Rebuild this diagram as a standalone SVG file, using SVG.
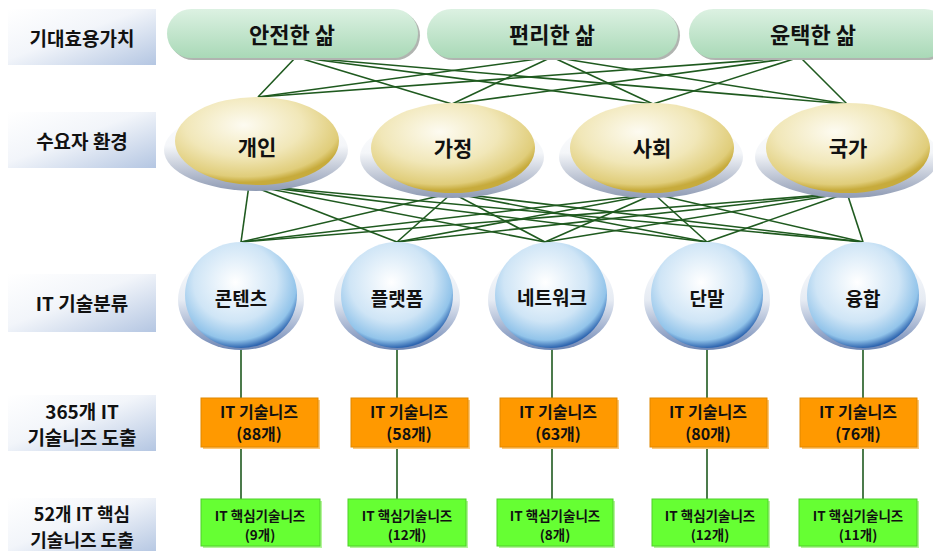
<svg xmlns="http://www.w3.org/2000/svg" width="933" height="551" viewBox="0 0 933 551">
<defs>
<linearGradient id="lbl" x1="0" y1="0" x2="1" y2="1">
<stop offset="0" stop-color="#ffffff"/><stop offset="0.45" stop-color="#f2f5fa"/><stop offset="1" stop-color="#b4c6e2"/>
</linearGradient>
<linearGradient id="pill" x1="0" y1="0" x2="0" y2="1">
<stop offset="0" stop-color="#dcf1e2"/><stop offset="1" stop-color="#a9d9b7"/>
</linearGradient>
<radialGradient id="yel" cx="0.42" cy="0.32" r="0.65">
<stop offset="0" stop-color="#fdfbf1"/><stop offset="0.55" stop-color="#f1e7b8"/><stop offset="0.9" stop-color="#e0cd7a"/><stop offset="1" stop-color="#c7ab3c"/>
</radialGradient>
<linearGradient id="yshadow" x1="0" y1="0" x2="0" y2="1">
<stop offset="0" stop-color="#ffffff"/><stop offset="0.45" stop-color="#f4f6f9"/><stop offset="1" stop-color="#8f9bb4"/>
</linearGradient>
<radialGradient id="blu" cx="0.45" cy="0.38" r="0.62">
<stop offset="0" stop-color="#ffffff"/><stop offset="0.6" stop-color="#cfe5f6"/><stop offset="0.88" stop-color="#92c4ea"/><stop offset="1" stop-color="#2f66b0"/>
</radialGradient>
<linearGradient id="bshadow" x1="0" y1="0" x2="0" y2="1">
<stop offset="0" stop-color="#ffffff"/><stop offset="0.5" stop-color="#e6ebf3"/><stop offset="1" stop-color="#6e86b4"/>
</linearGradient>
</defs>
<style>
.lb{fill:url(#lbl);}
.lt{font-family:"Noto Sans CJK KR","Liberation Sans",sans-serif;font-weight:bold;font-size:19px;fill:#111;text-anchor:middle;dominant-baseline:central;}
.pl{fill:url(#pill);}
.ps{fill:#b0b4b0;}
.pt{font-family:"Noto Sans CJK KR","Liberation Sans",sans-serif;font-weight:bold;font-size:22px;fill:#111;text-anchor:middle;dominant-baseline:central;}
.ye{fill:url(#yel);}
.ys{fill:url(#yshadow);}
.et{font-family:"Noto Sans CJK KR","Liberation Sans",sans-serif;font-weight:bold;font-size:21px;fill:#111;text-anchor:middle;dominant-baseline:central;}
.bc{fill:url(#blu);}
.bs{fill:url(#bshadow);}
.ct{font-family:"Noto Sans CJK KR","Liberation Sans",sans-serif;font-weight:bold;font-size:19px;fill:#111;text-anchor:middle;dominant-baseline:central;}
.ob{fill:#ff9900;stroke:#e08800;stroke-width:1;}
.os{fill:#ffc879;}
.ot{font-family:"Noto Sans CJK KR","Liberation Sans",sans-serif;font-weight:bold;font-size:16px;fill:#111;text-anchor:middle;dominant-baseline:central;}
.gb{fill:#66ff33;stroke:#4fd02a;stroke-width:1;}
.gs{fill:#b4f59a;}
.gt{font-family:"Noto Sans CJK KR","Liberation Sans",sans-serif;font-weight:bold;font-size:13.5px;fill:#111;text-anchor:middle;dominant-baseline:central;}
.cn line{stroke:#1f5a1f;stroke-width:1.6;}
</style>
<rect width="933" height="551" fill="#ffffff"/>

<g id="labels">
<g id="label-value"><rect class="lb" x="8" y="9" width="148" height="56"/><text class="lt" x="82" y="37">기대효용가치</text></g>
<g id="label-env"><rect class="lb" x="8" y="112" width="148" height="56"/><text class="lt" x="82" y="140">수요자 환경</text></g>
<g id="label-tech"><rect class="lb" x="8" y="274" width="148" height="58"/><text class="lt" x="82" y="302">IT 기술분류</text></g>
<g id="label-needs"><rect class="lb" x="8" y="395" width="148" height="56"/><text class="lt" x="82" y="410">365개 IT</text><text class="lt" x="82" y="436">기술니즈 도출</text></g>
<g id="label-core"><rect class="lb" x="8" y="498" width="148" height="56"/><text class="lt" x="82" y="513" style="font-size:18px">52개 IT 핵심</text><text class="lt" x="82" y="539" style="font-size:18px">기술니즈 도출</text></g>
</g>

<g id="connectors" class="cn">
<line x1="296" y1="57" x2="258" y2="97"/><line x1="296" y1="57" x2="452" y2="104"/><line x1="296" y1="57" x2="653" y2="104"/><line x1="296" y1="57" x2="847" y2="104"/>
<line x1="552" y1="57" x2="258" y2="97"/><line x1="552" y1="57" x2="452" y2="104"/><line x1="552" y1="57" x2="653" y2="104"/><line x1="552" y1="57" x2="847" y2="104"/>
<line x1="800" y1="57" x2="258" y2="97"/><line x1="800" y1="57" x2="452" y2="104"/><line x1="800" y1="57" x2="653" y2="104"/><line x1="800" y1="57" x2="847" y2="104"/>
<line x1="249" y1="185" x2="241" y2="242"/><line x1="249" y1="185" x2="397" y2="242"/><line x1="249" y1="185" x2="545" y2="242"/><line x1="249" y1="185" x2="707" y2="242"/><line x1="249" y1="185" x2="863" y2="242"/>
<line x1="452" y1="193" x2="241" y2="242"/><line x1="452" y1="193" x2="397" y2="242"/><line x1="452" y1="193" x2="545" y2="242"/><line x1="452" y1="193" x2="707" y2="242"/><line x1="452" y1="193" x2="863" y2="242"/>
<line x1="654" y1="194" x2="241" y2="242"/><line x1="654" y1="194" x2="397" y2="242"/><line x1="654" y1="194" x2="545" y2="242"/><line x1="654" y1="194" x2="707" y2="242"/><line x1="654" y1="194" x2="863" y2="242"/>
<line x1="847" y1="193" x2="241" y2="242"/><line x1="847" y1="193" x2="397" y2="242"/><line x1="847" y1="193" x2="545" y2="242"/><line x1="847" y1="193" x2="707" y2="242"/><line x1="847" y1="193" x2="863" y2="242"/>
<line x1="241" y1="346" x2="241" y2="398"/><line x1="241" y1="447" x2="241" y2="499"/>
<line x1="397" y1="346" x2="397" y2="398"/><line x1="397" y1="447" x2="397" y2="499"/>
<line x1="552" y1="346" x2="552" y2="398"/><line x1="552" y1="447" x2="552" y2="499"/>
<line x1="707" y1="346" x2="707" y2="398"/><line x1="707" y1="447" x2="707" y2="499"/>
<line x1="863" y1="346" x2="863" y2="398"/><line x1="863" y1="447" x2="863" y2="499"/>
</g>

<g id="value-safe"><rect class="ps" x="169" y="11" width="251" height="49" rx="24.5"/><rect class="pl" x="167" y="9" width="251" height="49" rx="24.5"/><text class="pt" x="292" y="33">안전한 삶</text></g>
<g id="value-convenient"><rect class="ps" x="429" y="11" width="251" height="49" rx="24.5"/><rect class="pl" x="427" y="9" width="251" height="49" rx="24.5"/><text class="pt" x="552" y="33">편리한 삶</text></g>
<g id="value-rich"><rect class="ps" x="691" y="11" width="260" height="49" rx="24.5"/><rect class="pl" x="689" y="9" width="260" height="49" rx="24.5"/><text class="pt" x="813" y="33">윤택한 삶</text></g>

<g id="env-individual"><ellipse class="ys" cx="256" cy="150" rx="92" ry="41"/><ellipse class="ye" cx="257" cy="141" rx="82" ry="44"/><text class="et" x="257" y="146">개인</text></g>
<g id="env-home"><ellipse class="ys" cx="452" cy="157" rx="92" ry="41"/><ellipse class="ye" cx="453" cy="148" rx="82" ry="45"/><text class="et" x="453" y="147">가정</text></g>
<g id="env-society"><ellipse class="ys" cx="651" cy="157" rx="92" ry="41"/><ellipse class="ye" cx="652" cy="148" rx="82" ry="45"/><text class="et" x="652" y="147">사회</text></g>
<g id="env-nation"><ellipse class="ys" cx="847" cy="157" rx="92" ry="41"/><ellipse class="ye" cx="848" cy="148" rx="82" ry="45"/><text class="et" x="848" y="147">국가</text></g>

<g id="tech-contents"><ellipse class="bs" cx="241" cy="300" rx="63" ry="50"/><ellipse class="bc" cx="241" cy="295" rx="56" ry="53"/><text class="ct" x="241" y="297">콘텐츠</text></g>
<g id="tech-platform"><ellipse class="bs" cx="397" cy="300" rx="63" ry="50"/><ellipse class="bc" cx="397" cy="295" rx="56" ry="53"/><text class="ct" x="397" y="297">플랫폼</text></g>
<g id="tech-network"><ellipse class="bs" cx="551" cy="300" rx="63" ry="50"/><ellipse class="bc" cx="551" cy="295" rx="56" ry="53"/><text class="ct" x="552" y="296">네트워크</text></g>
<g id="tech-terminal"><ellipse class="bs" cx="707" cy="300" rx="63" ry="50"/><ellipse class="bc" cx="707" cy="295" rx="56" ry="53"/><text class="ct" x="707" y="297">단말</text></g>
<g id="tech-convergence"><ellipse class="bs" cx="863" cy="300" rx="63" ry="50"/><ellipse class="bc" cx="863" cy="295" rx="56" ry="53"/><text class="ct" x="863" y="297">융합</text></g>

<g id="needs-contents"><rect class="os" x="203" y="400" width="117" height="49"/><rect class="ob" x="201" y="398" width="117" height="49"/><text class="ot" x="259" y="411">IT 기술니즈</text><text class="ot" x="259" y="433">(88개)</text></g>
<g id="needs-platform"><rect class="os" x="353" y="400" width="117" height="49"/><rect class="ob" x="351" y="398" width="117" height="49"/><text class="ot" x="409" y="411">IT 기술니즈</text><text class="ot" x="409" y="433">(58개)</text></g>
<g id="needs-network"><rect class="os" x="502" y="400" width="117" height="49"/><rect class="ob" x="500" y="398" width="117" height="49"/><text class="ot" x="558" y="411">IT 기술니즈</text><text class="ot" x="558" y="433">(63개)</text></g>
<g id="needs-terminal"><rect class="os" x="652" y="400" width="117" height="49"/><rect class="ob" x="650" y="398" width="117" height="49"/><text class="ot" x="708" y="411">IT 기술니즈</text><text class="ot" x="708" y="433">(80개)</text></g>
<g id="needs-convergence"><rect class="os" x="802" y="400" width="117" height="49"/><rect class="ob" x="800" y="398" width="117" height="49"/><text class="ot" x="858" y="411">IT 기술니즈</text><text class="ot" x="858" y="433">(76개)</text></g>

<g id="core-contents"><rect class="gs" x="203" y="501" width="119" height="47"/><rect class="gb" x="201" y="499" width="119" height="47"/><text class="gt" x="260" y="515">IT 핵심기술니즈</text><text class="gt" x="260" y="534">(9개)</text></g>
<g id="core-platform"><rect class="gs" x="350" y="501" width="118" height="47"/><rect class="gb" x="348" y="499" width="118" height="47"/><text class="gt" x="407" y="515">IT 핵심기술니즈</text><text class="gt" x="407" y="534">(12개)</text></g>
<g id="core-network"><rect class="gs" x="499" y="501" width="116" height="47"/><rect class="gb" x="497" y="499" width="116" height="47"/><text class="gt" x="555" y="515">IT 핵심기술니즈</text><text class="gt" x="555" y="534">(8개)</text></g>
<g id="core-terminal"><rect class="gs" x="654" y="501" width="116" height="47"/><rect class="gb" x="652" y="499" width="116" height="47"/><text class="gt" x="710" y="515">IT 핵심기술니즈</text><text class="gt" x="710" y="534">(12개)</text></g>
<g id="core-convergence"><rect class="gs" x="801" y="501" width="118" height="47"/><rect class="gb" x="799" y="499" width="118" height="47"/><text class="gt" x="858" y="515">IT 핵심기술니즈</text><text class="gt" x="858" y="534">(11개)</text></g>
</svg>
